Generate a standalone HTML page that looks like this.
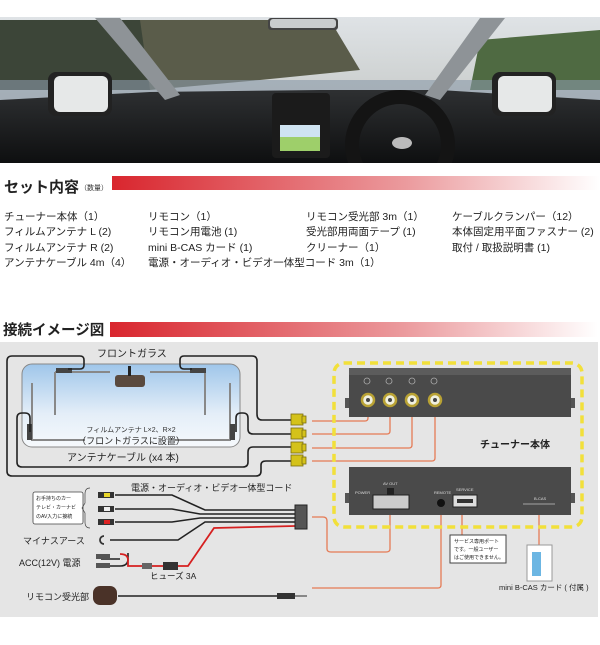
<!DOCTYPE html>
<html><head><meta charset="utf-8"><style>
body{margin:0;width:600px;height:640px;overflow:hidden;background:#fff;font-family:"Liberation Sans","Noto Sans CJK JP",sans-serif;}
</style></head><body>
<svg width="600" height="640" viewBox="0 0 600 640" xmlns="http://www.w3.org/2000/svg" font-family="Liberation Sans, Noto Sans CJK JP, sans-serif">
<defs>
<linearGradient id="sky" x1="0" y1="0" x2="0" y2="1"><stop offset="0" stop-color="#dfe3e6"/><stop offset="1" stop-color="#b9bcb8"/></linearGradient>
<linearGradient id="dash" x1="0" y1="0" x2="0" y2="1"><stop offset="0" stop-color="#2e3032"/><stop offset="1" stop-color="#0e0f10"/></linearGradient>
<linearGradient id="red" x1="0" y1="0" x2="1" y2="0"><stop offset="0" stop-color="#d9262e"/><stop offset="0.6" stop-color="#eb9a9d"/><stop offset="1" stop-color="#fff"/></linearGradient>
<linearGradient id="glass" x1="0" y1="0" x2="0" y2="1"><stop offset="0" stop-color="#9fc6ea"/><stop offset="0.6" stop-color="#e4eef8"/><stop offset="1" stop-color="#f6f9fc"/></linearGradient>
<clipPath id="ph"><rect x="0" y="17" width="600" height="146"/></clipPath>
</defs>
<!-- photo -->
<g clip-path="url(#ph)">
<rect x="0" y="17" width="600" height="146" fill="url(#sky)"/>
<rect x="0" y="20" width="150" height="70" fill="#3c4538"/>
<path d="M140 20 L330 20 L360 70 L260 80 L150 90Z" fill="#5a5c4a"/>
<path d="M480 40 L600 30 L600 90 L470 90Z" fill="#4f6a42"/>
<rect x="0" y="80" width="600" height="20" fill="#8b9aa8" opacity="0.6"/>
<path d="M0 100 L150 92 L320 90 L440 90 L600 100 L600 163 L0 163Z" fill="url(#dash)"/>
<path d="M95 18 L120 18 L180 95 L165 100Z" fill="#8e9397"/>
<path d="M505 18 L480 18 L425 95 L440 100Z" fill="#8e9397"/>
<rect x="268" y="18" width="70" height="12" rx="3" fill="#444"/><rect x="270" y="19" width="66" height="9" rx="3" fill="#c9ccce"/>
<rect x="48" y="72" width="64" height="44" rx="8" fill="#222"/><rect x="54" y="76" width="54" height="36" rx="6" fill="#e6e8e8"/>
<rect x="492" y="72" width="64" height="44" rx="8" fill="#222"/><rect x="498" y="76" width="54" height="36" rx="6" fill="#e6e8e8"/>
<rect x="272" y="93" width="58" height="65" rx="4" fill="#1b1b1b"/>
<rect x="280" y="125" width="40" height="26" fill="#9ecf6a"/><rect x="280" y="125" width="40" height="12" fill="#cfe3f1"/>
<circle cx="400" cy="145" r="48" fill="none" stroke="#141414" stroke-width="14"/>
<ellipse cx="402" cy="143" rx="10" ry="6" fill="#bbb"/>
</g>
<!-- section headers -->
<text x="4" y="192" font-size="15" font-weight="bold" fill="#222">セット内容</text>
<text x="80" y="190" font-size="7" fill="#333">（数量）</text>
<rect x="112" y="176" width="488" height="14" fill="url(#red)"/>
<g font-size="10.5" fill="#222">
<text x="4" y="220">チューナー本体（1）</text><text x="4" y="235">フィルムアンテナ L (2)</text><text x="4" y="251">フィルムアンテナ R (2)</text><text x="4" y="266">アンテナケーブル 4m（4）</text>
<text x="148" y="220">リモコン（1）</text><text x="148" y="235">リモコン用電池 (1)</text><text x="148" y="251">mini  B-CAS カード (1)</text><text x="148" y="266">電源・オーディオ・ビデオ一体型コード  3m（1）</text>
<text x="306" y="220">リモコン受光部  3m（1）</text><text x="306" y="235">受光部用両面テープ (1)</text><text x="306" y="251">クリーナー（1）</text>
<text x="452" y="220">ケーブルクランパー（12）</text><text x="452" y="235">本体固定用平面ファスナー (2)</text><text x="452" y="251">取付 / 取扱説明書 (1)</text>
</g>
<text x="3" y="335" font-size="14.5" font-weight="bold" fill="#222">接続イメージ図</text>
<rect x="110" y="322" width="488" height="15" fill="url(#red)"/>
<!-- diagram -->
<rect x="0" y="342" width="598" height="275" fill="#e5e5e5"/>
<rect x="22" y="364" width="218" height="83" rx="10" fill="url(#glass)" stroke="#888" stroke-width="1"/>
<text x="97" y="357" font-size="10" fill="#222">フロントガラス</text>
<rect x="115" y="375" width="30" height="12" rx="3" fill="#5a4a3e"/><rect x="128" y="366" width="3" height="10" fill="#222"/>
<g stroke="#888" stroke-width="2" fill="none">
<path d="M55 372 L110 372 M55 372 L55 415"/><path d="M205 372 L150 372 M205 372 L205 415"/>
<path d="M32 383 L32 440 L85 440"/><path d="M230 383 L230 440 L175 440"/>
</g>
<g fill="#444"><rect x="56" y="368" width="16" height="5"/><rect x="190" y="368" width="16" height="5"/><rect x="27" y="424" width="5" height="16"/><rect x="230" y="424" width="5" height="16"/></g>
<text x="131" y="432" font-size="7" fill="#333" text-anchor="middle">フィルムアンテナ L×2、R×2</text>
<text x="131" y="444" font-size="9" fill="#222" text-anchor="middle">（フロントガラスに設置）</text>
<text x="67" y="461" font-size="10" fill="#222">アンテナケーブル (x4 本)</text>
<g stroke="#222" stroke-width="1.6" fill="none">
<path d="M68 369 L80 369 Q84 369 84 365 L84 360 Q84 356 80 356 L12 356 Q7 356 7 361 L7 471 Q7 476 12 476 L256 476 Q261 476 261 471 L261 465 Q261 461 266 461 L292 461"/>
<path d="M192 369 L184 369 Q180 369 180 365 L180 360 Q180 356 184 356 L252 356 Q257 356 257 361 L257 414 Q257 420 262 420 L292 420"/>
<path d="M236 432 L236 418 Q236 413 241 413 L243 413 Q248 413 248 418 L248 429 Q248 434 253 434 L292 434"/>
<path d="M30 432 L30 418 Q30 413 25 413 L22 413 Q17 413 17 418 L17 462 Q17 467 22 467 L243 467 Q248 467 248 462 L248 452 Q248 447 253 447 L292 447"/>
</g>
<g fill="#d4c21a" stroke="#7a6d10" stroke-width="0.8">
<rect x="291" y="414" width="12" height="11"/><rect x="291" y="428" width="12" height="11"/><rect x="291" y="442" width="12" height="11"/><rect x="291" y="455" width="12" height="11"/>
<rect x="302" y="416" width="4" height="7"/><rect x="302" y="430" width="4" height="7"/><rect x="302" y="444" width="4" height="7"/><rect x="302" y="457" width="4" height="7"/>
</g>
<!-- orange lines -->
<g stroke="#e57a55" stroke-width="1.3" fill="none">
<path d="M312 421 L365 421 Q368 421 368 418 L368 407"/>
<path d="M312 434 L387 434 Q390 434 390 431 L390 407"/>
<path d="M312 448 L409 448 Q412 448 412 445 L412 407"/>
<path d="M312 461 L432 461 Q435 461 435 458 L435 407"/>
<path d="M312 517 L323 517 Q327 517 327 521 L327 549 Q327 552 331 552 L386 552 Q390 552 390 549 L390 508"/>
<path d="M312 588 L438 588 Q441 588 441 585 L441 505"/>
<path d="M462 508 L462 535"/><path d="M539 510 L539 545"/>
</g>
<rect x="334" y="363" width="248" height="164" rx="10" fill="none" stroke="#f2e03a" stroke-width="3.5" stroke-dasharray="8 5"/>
<!-- tuner top -->
<rect x="345" y="398" width="5" height="10" fill="#555"/><rect x="570" y="398" width="5" height="10" fill="#555"/>
<rect x="349" y="368" width="222" height="49" fill="#4a4a4a"/><rect x="349" y="368" width="222" height="7" fill="#5c5c5c"/>
<g fill="#f0f0e0" stroke="#b9a234" stroke-width="2.5">
<circle cx="368" cy="400" r="6"/><circle cx="390" cy="400" r="6"/><circle cx="412" cy="400" r="6"/><circle cx="435" cy="400" r="6"/></g>
<g fill="#444"><circle cx="368" cy="400" r="2"/><circle cx="390" cy="400" r="2"/><circle cx="412" cy="400" r="2"/><circle cx="435" cy="400" r="2"/></g>
<g fill="none" stroke="#aaa" stroke-width="0.8"><circle cx="367" cy="381" r="3"/><circle cx="389" cy="381" r="3"/><circle cx="412" cy="381" r="3"/><circle cx="434" cy="381" r="3"/></g>
<text x="480" y="448" font-size="10" font-weight="bold" fill="#222">チューナー本体</text>
<!-- tuner bottom -->
<rect x="345" y="493" width="5" height="10" fill="#555"/><rect x="570" y="493" width="5" height="10" fill="#555"/>
<rect x="349" y="467" width="222" height="48" fill="#4a4a4a"/>
<rect x="373" y="495" width="36" height="14" fill="#ccc" stroke="#222"/><rect x="387" y="488" width="7" height="7" fill="#222"/>
<circle cx="441" cy="503" r="4" fill="#111"/><rect x="453" y="495" width="24" height="12" fill="#ddd" stroke="#222"/><rect x="457" y="499" width="16" height="4" fill="#333"/>
<rect x="523" y="503" width="32" height="2" fill="#777"/>
<g font-size="4" fill="#ddd"><text x="355" y="494">POWER</text><text x="383" y="485">AV OUT</text><text x="434" y="494">REMOTE</text><text x="456" y="491">SERVICE</text><text x="534" y="500">B-CAS</text></g>
<rect x="450" y="535" width="56" height="28" fill="#fff" stroke="#444"/>
<g font-size="5" fill="#222"><text x="454" y="543">サービス専用ポート</text><text x="454" y="551">です。一般ユーザー</text><text x="454" y="559">はご使用できません。</text></g>
<rect x="527" y="545" width="25" height="36" fill="#fff" stroke="#999"/><rect x="532" y="552" width="9" height="24" fill="#6cb6e3"/>
<text x="499" y="590" font-size="7.5" fill="#222">mini B-CAS カード ( 付属 )</text>
<!-- left cables -->
<text x="131" y="491" font-size="9" fill="#222">電源・オーディオ・ビデオ一体型コード</text>
<rect x="33" y="492" width="50" height="32" rx="2" fill="#fff" stroke="#444" stroke-width="0.8"/>
<g font-size="5" fill="#222"><text x="36" y="500">お手持ちのカー</text><text x="36" y="509">テレビ・カーナビ</text><text x="36" y="518">のAV入力に接続</text></g>
<path d="M90 488 Q85 488 85 494 L85 503 L82 508 L85 513 L85 522 Q85 528 90 528" fill="none" stroke="#444" stroke-width="0.7"/>
<g stroke="#222" stroke-width="1.6" fill="none">
<path d="M115 495 L172 495 L205 510 L295 510"/>
<path d="M115 509 L172 509 L200 514 L295 514"/>
<path d="M115 522 L172 522 L200 518 L295 518"/>
<path d="M110 540 L178 540 L205 522 L295 522"/>
<path d="M101 559 L120 559 M101 566 L120 566 Q128 566 128 559 L128 553"/>
<path d="M118 596 L290 596"/>
</g>
<path d="M120 554 Q128 554 128 560 L128 566 L180 566 L188 566 L214 528 L295 526" fill="none" stroke="#d62020" stroke-width="1.8"/>
<g fill="#333"><rect x="98" y="492" width="16" height="6"/><rect x="98" y="506" width="16" height="6"/><rect x="98" y="519" width="16" height="6"/></g>
<rect x="104" y="493" width="6" height="4" fill="#e8d62a"/><rect x="104" y="507" width="6" height="4" fill="#eee"/><rect x="104" y="520" width="6" height="4" fill="#d22"/>
<path d="M104 536 A4 4 0 1 0 104 544" fill="none" stroke="#333" stroke-width="1.8"/>
<rect x="96" y="554" width="14" height="5" fill="#555"/><rect x="96" y="563" width="14" height="5" fill="#555"/>
<rect x="142" y="563" width="10" height="6" fill="#666"/><rect x="163" y="562" width="15" height="8" fill="#333"/>
<rect x="295" y="505" width="12" height="24" fill="#555" stroke="#222"/>
<text x="23" y="544" font-size="9" fill="#222">マイナスアース</text>
<text x="19" y="566" font-size="9" fill="#222">ACC(12V) 電源</text>
<text x="150" y="579" font-size="8.5" fill="#222">ヒューズ 3A</text>
<text x="26" y="600" font-size="9" fill="#222">リモコン受光部</text>
<rect x="93" y="586" width="24" height="19" rx="7" fill="#4a3228"/>
<rect x="277" y="593" width="18" height="6" fill="#333"/><rect x="295" y="595" width="12" height="2" fill="#888"/>
</svg>
</body></html>
